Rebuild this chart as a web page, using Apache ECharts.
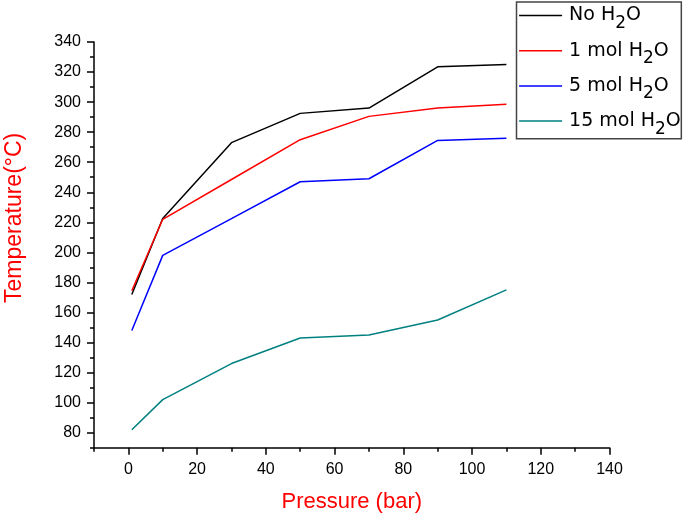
<!DOCTYPE html>
<html>
<head>
<meta charset="utf-8">
<script src="https://cdn.jsdelivr.net/npm/echarts@6/dist/echarts.min.js"></script>
<style>
html,body{margin:0;padding:0;background:#fff;}
#c{width:685px;height:514px;}
</style>
</head>
<body>
<div id="c"></div>
<script>
// Data
var pressure = [1, 10, 30, 50, 70, 90, 110];
var noH2O   = [172, 222.5, 273, 292.5, 296, 323.5, 325];
var mol1H2O = [174.5, 222, 248.5, 275, 290.5, 296, 298.5];
var mol5H2O = [148, 198, 222.5, 247, 249, 274.5, 276];
var mol15H2O = [82, 102, 126, 143, 145, 155, 175];
var seriesNames = ['No H2O', '1 mol H2O', '5 mol H2O', '15 mol H2O'];
var seriesColors = ['#000000', '#ff0000', '#0000ff', '#008080'];
var xMajorTicks = [0, 20, 40, 60, 80, 100, 120, 140];
var xMinorTicks = [-10, 10, 30, 50, 70, 90, 110, 130];
var yMajorTicks = [80, 100, 120, 140, 160, 180, 200, 220, 240, 260, 280, 300, 320, 340];
var yMinorTicks = [70, 90, 110, 130, 150, 170, 190, 210, 230, 250, 270, 290, 310, 330];

function pairs(ys) {
  return pressure.map(function (x, i) { return [x, ys[i]]; });
}
var allValues = [noH2O, mol1H2O, mol5H2O, mol15H2O];

var FONT = 'Liberation Sans, Arial, sans-serif';
var LFONT = 'DejaVu Sans, sans-serif';
var chart = echarts.init(document.getElementById('c'), null, {renderer: 'canvas'});

function legendFmt(name) {
  var parts = name.split('H2O');
  return '{g|}{a|' + parts[0] + 'H}{s|2}{a|O}';
}

var axisLineStyle = {color: '#000', width: 1.5};

var option = {
  animation: false,
  backgroundColor: '#fff',
  grid: {left: 94, right: 75.5, top: 42, bottom: 66.3, containLabel: false, outerBoundsMode: 'none'},
  legend: {
    orient: 'vertical',
    left: 516.5,
    top: 2,
    padding: [3.5, 0.5, 1.2, 2.6],
    itemGap: 8.7,
    itemWidth: 43,
    itemHeight: 1.5,
    icon: 'rect',
    borderColor: '#444',
    borderWidth: 1.5,
    data: seriesNames,
    formatter: legendFmt,
    textStyle: {
      fontFamily: LFONT,
      color: '#000',
      rich: {
        g: {width: 2, lineHeight: 22},
        a: {fontFamily: LFONT, fontSize: 19, lineHeight: 22, color: '#000'},
        s: {fontFamily: LFONT, fontSize: 17, lineHeight: 22, height: 4, padding: [16, 0, 0, 0], color: '#000'}
      }
    }
  },
  xAxis: [{
    type: 'value',
    min: -10,
    max: 140,
    position: 'bottom',
    name: 'Pressure (bar)',
    nameLocation: 'middle',
    nameGap: 43,
    nameTextStyle: {fontFamily: FONT, fontSize: 22, color: '#ff0000'},
    axisLine: {show: true, onZero: false, lineStyle: axisLineStyle},
    axisTick: {show: true, inside: false, length: 7, customValues: xMajorTicks, lineStyle: {color: '#000', width: 1.5}},
    axisLabel: {show: true, customValues: xMajorTicks, margin: 14, fontFamily: FONT, fontSize: 16, color: '#000'},
    splitLine: {show: false}
  }, {
    type: 'value',
    min: -10,
    max: 140,
    position: 'bottom',
    axisLine: {show: false, onZero: false},
    axisTick: {show: true, inside: false, length: 4, customValues: xMinorTicks, lineStyle: {color: '#000', width: 1.5}},
    axisLabel: {show: false},
    splitLine: {show: false}
  }],
  yAxis: [{
    type: 'value',
    min: 70,
    max: 340,
    position: 'left',
    name: 'Temperature(°C)',
    nameLocation: 'middle',
    nameGap: 68,
    nameRotate: 90,
    nameTextStyle: {fontFamily: FONT, fontSize: 23, color: '#ff0000', padding: [0, 0, 0, 54]},
    axisLine: {show: true, onZero: false, lineStyle: axisLineStyle},
    axisTick: {show: true, inside: false, length: 7, customValues: yMajorTicks, lineStyle: {color: '#000', width: 1.5}},
    axisLabel: {show: true, customValues: yMajorTicks, margin: 13, fontFamily: FONT, fontSize: 16, color: '#000'},
    splitLine: {show: false}
  }, {
    type: 'value',
    min: 70,
    max: 340,
    position: 'left',
    axisLine: {show: false, onZero: false},
    axisTick: {show: true, inside: false, length: 4, customValues: yMinorTicks, lineStyle: {color: '#000', width: 1.5}},
    axisLabel: {show: false},
    splitLine: {show: false}
  }],
  series: seriesNames.map(function (n, i) {
    return {
      name: n,
      type: 'line',
      xAxisIndex: 0,
      yAxisIndex: 0,
      data: pairs(allValues[i]),
      symbol: 'none',
      color: seriesColors[i],
      lineStyle: {color: seriesColors[i], width: 1.5},
      itemStyle: {color: seriesColors[i]}
    };
  })
};
chart.setOption(option);
</script>
</body>
</html>
